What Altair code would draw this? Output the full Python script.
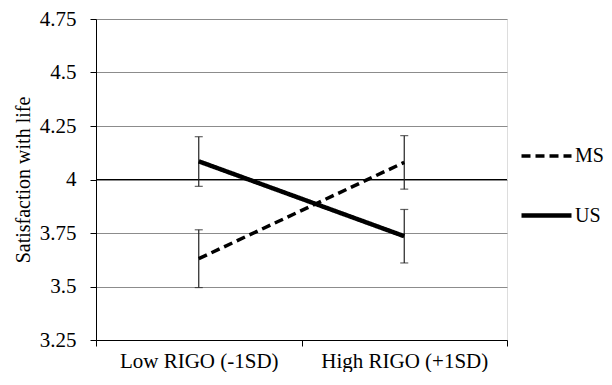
import altair as alt
import pandas as pd

levels = ["Low RIGO (-1SD)", "High RIGO (+1SD)"]
groups = ["MS", "US"]
ms_mean = [3.63, 4.08]
ms_low = [3.495, 3.955]
ms_high = [3.765, 4.205]
us_mean = [4.085, 3.735]
us_low = [3.968, 3.61]
us_high = [4.2, 3.86]
y_ticks = [3.25, 3.5, 3.75, 4, 4.25, 4.5, 4.75]

rows = []
for i, lv in enumerate(levels):
    rows.append({"level": lv, "group": "MS", "mean": ms_mean[i], "low": ms_low[i], "high": ms_high[i]})
    rows.append({"level": lv, "group": "US", "mean": us_mean[i], "low": us_low[i], "high": us_high[i]})
df = pd.DataFrame(rows)

FONT = "Liberation Serif"

x_enc = alt.X(
    "level:N", sort=levels,
    scale=alt.Scale(domain=levels, paddingInner=0, paddingOuter=0),
    axis=alt.Axis(title=None, labelAngle=0, labelAlign="center", labelBaseline="top",
                  tickBand="extent", domainColor="black",
                  tickColor="black", tickSize=6, labelFontSize=21, labelPadding=4,
                  labelColor="black", labelFont=FONT),
)
y_scale = alt.Scale(domain=[3.25, 4.75], nice=False, zero=False)

base = alt.Chart(df)

lines = base.mark_line(color="black", strokeCap="butt").encode(
    x=x_enc,
    y=alt.Y("mean:Q", scale=y_scale,
            axis=alt.Axis(values=y_ticks, labelExpr="format(datum.value, '.2~f')",
                          title="Satisfaction with life",
                          grid=True, gridColor="#8c8c8c", domainColor="black", tickColor="black",
                          tickSize=6, labelPadding=14, labelFontSize=21, labelColor="black",
                          labelFont=FONT, titleFont=FONT, titleFontSize=20,
                          titleFontWeight="normal", titleColor="black", titlePadding=6)),
    strokeDash=alt.StrokeDash("group:N", scale=alt.Scale(domain=groups, range=[[9, 5], [1, 0]]),
                              legend=alt.Legend(title=None, orient="none", legendX=423, legendY=110,
                                                symbolType="stroke", symbolSize=2500,
                                                symbolStrokeWidth=4, symbolStrokeColor="black",
                                                labelFontSize=20, labelFont=FONT, labelColor="black",
                                                labelOffset=1, rowPadding=22)),
    strokeWidth=alt.StrokeWidth("group:N", scale=alt.Scale(domain=groups, range=[3.5, 4.5]), legend=None),
)

errs = base.mark_rule(color="#222222", strokeWidth=1.2).encode(
    x=alt.X("level:N", sort=levels), y="low:Q", y2="high:Q"
)
cap_lo = base.mark_tick(color="#222222", size=8, thickness=1.2).encode(
    x=alt.X("level:N", sort=levels), y="low:Q"
)
cap_hi = base.mark_tick(color="#222222", size=8, thickness=1.2).encode(
    x=alt.X("level:N", sort=levels), y="high:Q"
)

four = alt.Chart(pd.DataFrame({"v": [4]})).mark_rule(color="black", strokeWidth=1).encode(y="v:Q")

chart = alt.layer(four, errs, cap_lo, cap_hi, lines).properties(
    width=411, height=321,
    autosize=alt.AutoSizeParams(type="none"),
    padding={"left": 88, "top": 11, "right": 97, "bottom": 32},
).configure_view(stroke="#a6a6a6").configure(background="white", font=FONT)

chart.save("out.html", embed_options={"renderer": "svg", "actions": False})
